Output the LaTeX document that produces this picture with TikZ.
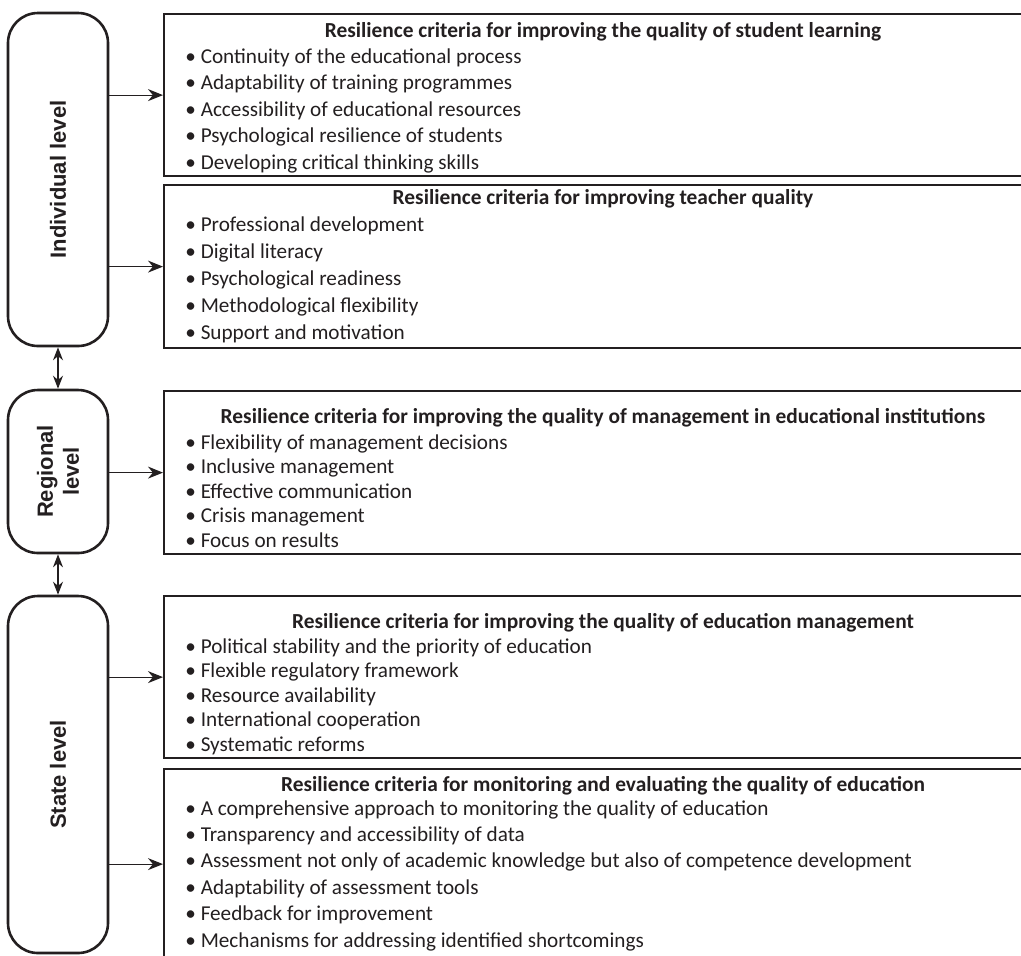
\documentclass[tikz,border=0pt]{standalone}
\usepackage{fontspec}
\setmainfont{Carlito}
\newfontfamily\levelfont{Liberation Sans}
\usetikzlibrary{arrows.meta}
\definecolor{ink}{HTML}{231F20}

\begin{document}
\begin{tikzpicture}[x=0.5pt, y=-0.5pt,
    levelbox/.style={draw=ink, line width=1.3pt, rounded corners=15pt, rotate=90,
        minimum height=50pt, align=center, text=ink,
        font=\levelfont\bfseries\fontsize{11}{13}\selectfont},
    critbox/.style={draw=ink, line width=1.1pt, anchor=north west,
        minimum width=440pt, inner sep=0pt},
    crithead/.style={anchor=base, inner sep=0pt, text=ink,
        font=\bfseries\fontsize{10.7}{13}\selectfont},
    item/.style={anchor=base west, inner sep=0pt, text=ink,
        font=\fontsize{10.6}{13}\selectfont},
    linkarr/.style={draw=ink, line width=0.6pt, -{Stealth[length=7.5pt, width=6pt]}},
    dblarr/.style={draw=ink, line width=0.6pt,
        {Stealth[length=6.5pt, width=5pt]}-{Stealth[length=6.5pt, width=5pt]}}]

% Page size
\useasboundingbox (0,0) rectangle (1021,955);
\clip (0,0) rectangle (1021,955);

% Levels
\node[levelbox, minimum width=166.5pt] (indiv) at (58,179.5) {Individual level};
\node[levelbox, minimum width=81.5pt] (regional) at (58,471.5) {Regional\\level};
\node[levelbox, minimum width=178.5pt] (state) at (58,774.5) {State level};

\draw[dblarr] (indiv) -- (regional);
\draw[dblarr] (regional) -- (state);

% Criteria boxes (open to the right)
\node[critbox, minimum height=81pt] (student) at (163,13) {};
\node[critbox, minimum height=81.5pt] (teacher) at (163,184) {};
\node[critbox, minimum height=81.5pt] (institution) at (163,390) {};
\node[critbox, minimum height=81pt] (management) at (163,595) {};
\node[critbox, minimum height=95pt] (monitoring) at (163,768) {};

% Arrows from the levels
\draw[linkarr] (indiv.south |- student.west) -- (student.west);
\draw[linkarr] (indiv.south |- teacher.west) -- (teacher.west);
\draw[linkarr] (regional.south |- institution.west) -- (institution.west);
\draw[linkarr] (state.south |- management.west) -- (management.west);
\draw[linkarr] (state.south |- monitoring.west) -- (monitoring.west);

% Headers
\node[crithead] (student-h) at (603,37) {Resilience criteria for improving the quality of student learning};
\node[crithead] (teacher-h) at (603,204) {Resilience criteria for improving teacher quality};
\node[crithead] (institution-h) at (603,423) {Resilience criteria for improving the quality of management in educational institutions};
\node[crithead] (management-h) at (603,628) {Resilience criteria for improving the quality of education management};
\node[crithead] (monitoring-h) at (603,791) {Resilience criteria for monitoring and evaluating the quality of education};

% Items
\foreach \t [count=\i from 0] in {Continuity of the educational process,
    Adaptability of training programmes, Accessibility of educational resources,
    Psychological resilience of students, Developing critical thinking skills}
    \node[item] (student-\i) at (185,63+26.5*\i) {\textbullet\ \t};

\foreach \t [count=\i from 0] in {Professional development, Digital literacy,
    Psychological readiness, Methodological flexibility, Support and motivation}
    \node[item] (teacher-\i) at (185,231+27*\i) {\textbullet\ \t};

\foreach \t [count=\i from 0] in {Flexibility of management decisions,
    Inclusive management, Effective communication, Crisis management, Focus on results}
    \node[item] (institution-\i) at (185,449+24.5*\i) {\textbullet\ \t};

\foreach \t [count=\i from 0] in {Political stability and the priority of education,
    Flexible regulatory framework, Resource availability, International cooperation,
    Systematic reforms}
    \node[item] (management-\i) at (185,653+24.5*\i) {\textbullet\ \t};

\foreach \t [count=\i from 0] in {A comprehensive approach to monitoring the quality of education,
    Transparency and accessibility of data,
    Assessment not only of academic knowledge but also of competence development,
    Adaptability of assessment tools, Feedback for improvement,
    Mechanisms for addressing identified shortcomings}
    \node[item] (monitoring-\i) at (185,815+26.4*\i) {\textbullet\ \t};

\end{tikzpicture}
\end{document}
